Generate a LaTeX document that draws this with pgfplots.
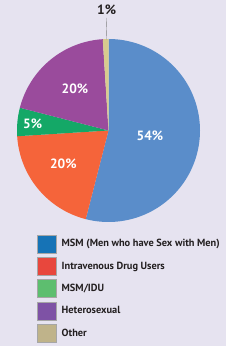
\documentclass[border=0pt]{standalone}
\usepackage{pgfplots}
\pgfplotsset{compat=1.18}
\usepackage{pgfplotstable}
\usepackage{fontspec}
\setmainfont{PT Sans}
\definecolor{bg}{HTML}{E6E3F0}
\definecolor{cblue}{HTML}{5A8DCA}
\definecolor{corange}{HTML}{F5643A}
\definecolor{cgreen}{HTML}{14A867}
\definecolor{cpurple}{HTML}{9A4B9C}
\definecolor{ctan}{HTML}{D8CB8E}
\definecolor{lblue}{HTML}{1673B6}
\definecolor{lred}{HTML}{E8473D}
\definecolor{lgreen}{HTML}{5DBE6F}
\definecolor{lpurple}{HTML}{7E52A5}
\definecolor{ltan}{HTML}{BFB38A}
\definecolor{txt}{HTML}{231F20}

\pgfplotstableread{
group value
MSM 54
IDU 20
MSMIDU 5
Het 20
Other 1
}\piedata

\pgfplotstablegetelem{0}{value}\of\piedata \let\vA\pgfplotsretval
\pgfplotstablegetelem{1}{value}\of\piedata \let\vB\pgfplotsretval
\pgfplotstablegetelem{2}{value}\of\piedata \let\vC\pgfplotsretval
\pgfplotstablegetelem{3}{value}\of\piedata \let\vD\pgfplotsretval
\pgfplotstablegetelem{4}{value}\of\piedata \let\vE\pgfplotsretval

\pgfmathsetmacro\aO{90}
\pgfmathsetmacro\aA{\aO-3.6*\vA}
\pgfmathsetmacro\aB{\aA-3.6*\vB}
\pgfmathsetmacro\aC{\aB-3.6*\vC}
\pgfmathsetmacro\aD{\aC-3.6*\vD}
\pgfmathsetmacro\aE{\aD-3.6*\vE}

\def\cx{108.5}
\def\cy{215.5}
\def\rr{91.5}

\begin{document}
\begin{tikzpicture}
\begin{axis}[
  scale only axis, width=241bp, height=346bp,
  xmin=0, xmax=241, ymin=0, ymax=346,
  hide axis, clip=false,
  legend image code/.code={\draw[#1] (0bp,-9bp) rectangle (18.5bp,9bp);},
  legend style={at={(axis cs:37.3,111.3)}, anchor=north west, draw=none, fill=none,
    inner sep=0pt, outer sep=0pt, row sep=4bp, column sep=0pt,
    font=\fontsize{10.4}{11}\selectfont\bfseries, text=txt,
    nodes={inner sep=0pt, minimum height=18.3bp}},
  legend cell align=left,
]
\fill[bg] (axis cs:0,0) rectangle (axis cs:226,346);
\fill[white] (axis cs:226,0) rectangle (axis cs:241,346);

\addplot[forget plot, fill=cblue, draw=none, domain=\aA:\aO, samples=120, variable=\t]
  ({\cx+\rr*cos(\t)},{\cy+\rr*sin(\t)}) -- (axis cs:\cx,\cy) -- cycle;
\addplot[forget plot, fill=corange, draw=none, domain=\aB:\aA, samples=60, variable=\t]
  ({\cx+\rr*cos(\t)},{\cy+\rr*sin(\t)}) -- (axis cs:\cx,\cy) -- cycle;
\addplot[forget plot, fill=cgreen, draw=none, domain=\aC:\aB, samples=20, variable=\t]
  ({\cx+\rr*cos(\t)},{\cy+\rr*sin(\t)}) -- (axis cs:\cx,\cy) -- cycle;
\addplot[forget plot, fill=cpurple, draw=none, domain=\aD:\aC, samples=60, variable=\t]
  ({\cx+\rr*cos(\t)},{\cy+\rr*sin(\t)}) -- (axis cs:\cx,\cy) -- cycle;
\addplot[forget plot, fill=ctan, draw=none, domain=\aE:\aD, samples=5, variable=\t]
  ({\cx+\rr*cos(\t)},{\cy+\rr*sin(\t)}) -- (axis cs:\cx,\cy) -- cycle;

\draw[gray, line width=0.4pt] (axis cs:106.2,328) -- (axis cs:106.8,306.5);

\node[text=white, font=\fontsize{13.5}{14}\selectfont\bfseries] at (axis cs:150,210) {54\%};
\node[text=white, font=\fontsize{13.5}{14}\selectfont\bfseries] at (axis cs:63.3,182.7) {20\%};
\node[text=white, font=\fontsize{13.5}{14}\selectfont\bfseries] at (axis cs:32.7,222.7) {5\%};
\node[text=white, font=\fontsize{13.5}{14}\selectfont\bfseries] at (axis cs:75,257.7) {20\%};
\node[text=txt, font=\fontsize{13.5}{14}\selectfont\bfseries] at (axis cs:106.7,336.5) {1\%};

\addlegendimage{fill=lblue, draw=gray!70, line width=0.4pt}
\addlegendentry{\hspace{5.5bp}MSM (Men who have Sex with Men)}
\addlegendimage{fill=lred, draw=gray!70, line width=0.4pt}
\addlegendentry{\hspace{5.5bp}Intravenous Drug Users}
\addlegendimage{fill=lgreen, draw=gray!70, line width=0.4pt}
\addlegendentry{\hspace{5.5bp}MSM/IDU}
\addlegendimage{fill=lpurple, draw=gray!70, line width=0.4pt}
\addlegendentry{\hspace{5.5bp}Heterosexual}
\addlegendimage{fill=ltan, draw=gray!70, line width=0.4pt}
\addlegendentry{\hspace{5.5bp}Other}
\end{axis}
\end{tikzpicture}
\end{document}
